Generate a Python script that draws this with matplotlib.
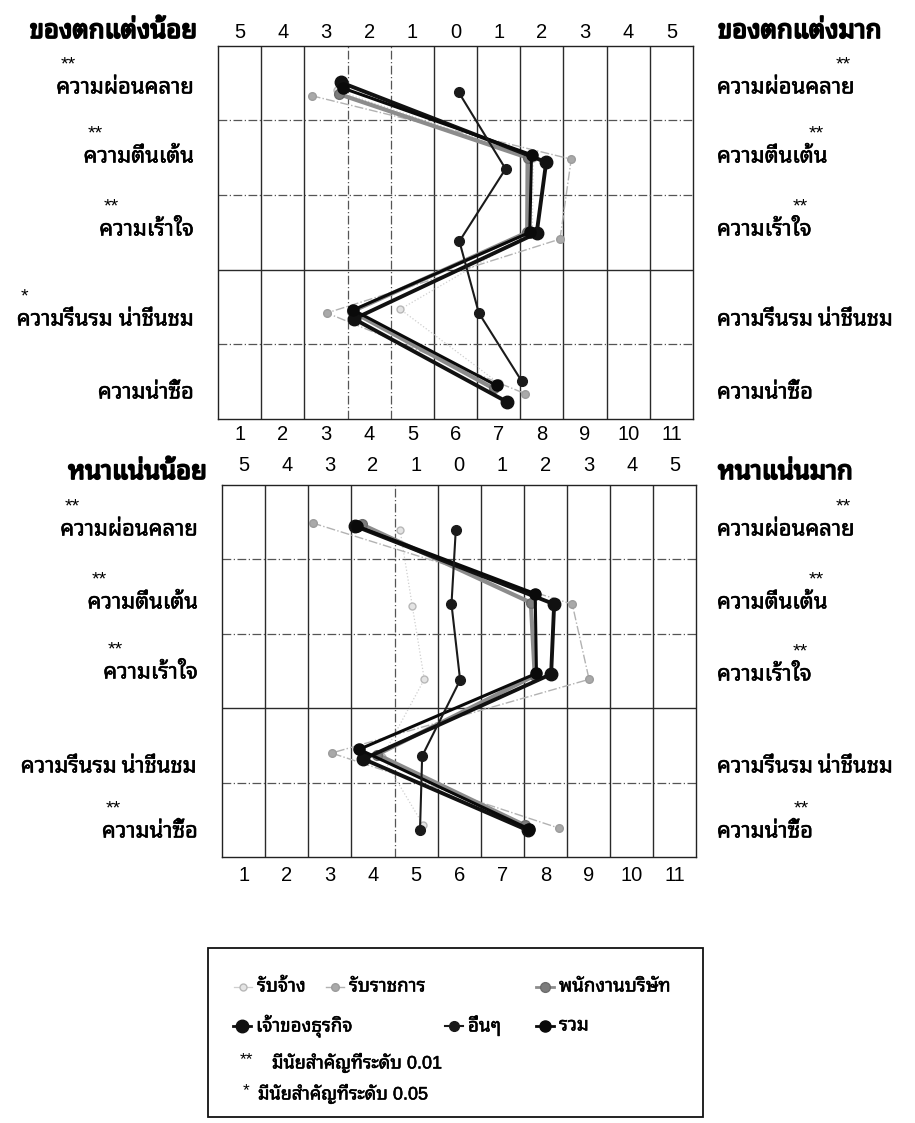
import matplotlib
matplotlib.use("Agg")
import numpy as np
import matplotlib.pyplot as plt
from matplotlib import font_manager, ft2font
from matplotlib import patheffects
from matplotlib.patches import Rectangle


# Row labels of the semantic differential and the occupation groups
attributes = ["ความผ่อนคลาย", "ความตื่นเต้น", "ความเร้าใจ", "ความรื่นรม น่าชื่นชม", "ความน่าซื้อ"]
groups = ["รับจ้าง", "รับราชการ", "พนักงานบริษัท", "เจ้าของธุรกิจ", "อื่นๆ", "รวม"]

scale_top_labels = ["5", "4", "3", "2", "1", "0", "1", "2", "3", "4", "5"]
scale_bottom_labels = ["1", "2", "3", "4", "5", "6", "7", "8", "9", "10", "11"]

# significance marks written beside each row label
deco_sig_left = ["**", "**", "**", "*", ""]
deco_sig_right = ["**", "**", "**", "", ""]
dense_sig_left = ["**", "**", "**", "", "**"]
dense_sig_right = ["**", "**", "**", "", "**"]

# ของตกแต่ง : position on the 1-11 scale (x) and row (y) for every group
deco_hire_x = [3.25, 7.80, 7.78, 4.72, 7.00]
deco_hire_y = [1.10, 2.00, 3.00, 4.03, 5.02]
deco_gov_x = [2.67, 8.68, 8.42, 3.02, 7.61]
deco_gov_y = [1.17, 2.02, 3.09, 4.08, 5.16]
deco_company_x = [3.31, 7.67, 7.66, 3.60, 6.88]
deco_company_y = [1.15, 2.00, 3.00, 4.06, 5.09]
deco_owner_x = [3.34, 8.10, 7.88, 3.65, 7.19]
deco_owner_y = [0.99, 2.06, 3.01, 4.16, 5.27]
deco_other_x = [6.07, 7.16, 6.09, 6.54, 7.53]
deco_other_y = [1.12, 2.15, 3.12, 4.08, 4.99]
deco_total_x = [3.40, 7.76, 7.72, 3.63, 6.95]
deco_total_y = [1.07, 1.96, 3.00, 4.04, 5.05]

# หนาแน่น
dense_hire_x = [4.63, 4.91, 5.19, 4.22, 5.17]
dense_hire_y = [1.11, 2.12, 3.11, 4.15, 5.07]
dense_gov_x = [2.60, 8.62, 9.01, 3.04, 8.32]
dense_gov_y = [1.01, 2.10, 3.11, 4.10, 5.11]
dense_company_x = [3.74, 7.66, 7.75, 4.10, 7.52]
dense_company_y = [1.03, 2.08, 3.06, 4.12, 5.07]
dense_owner_x = [3.58, 8.20, 8.13, 3.78, 7.60]
dense_owner_y = [1.05, 2.10, 3.04, 4.18, 5.14]
dense_other_x = [5.92, 5.82, 6.02, 5.14, 5.09]
dense_other_y = [1.10, 2.10, 3.12, 4.14, 5.14]
dense_total_x = [3.62, 7.76, 7.79, 3.68, 7.62]
dense_total_y = [1.05, 1.96, 3.03, 4.05, 5.12]


def find_thai_font():
    # pick an installed family that actually has Thai glyphs
    preferred = ["Noto Sans Thai Looped", "Noto Sans Thai", "Noto Sans Thai UI",
                 "Loma", "Garuda", "Waree", "Tlwg Typo", "Sawasdee", "Norasi", "Kinnari"]
    found = {}
    for entry in font_manager.fontManager.ttflist:
        if entry.name in found:
            continue
        try:
            cmap = ft2font.FT2Font(entry.fname).get_charmap()
        except Exception:
            continue
        if 0x0E01 in cmap and 0x0E35 in cmap:
            found[entry.name] = entry.fname
    for name in preferred:
        if name in found:
            return name
    if found:
        return sorted(found)[0]
    return "DejaVu Sans"


thai = find_thai_font()
fonts = ["Liberation Sans", thai, "DejaVu Sans"]
plt.rcParams["font.family"] = fonts

# heavier strokes for the bold headings and a touch for the row labels
heavy = [patheffects.withStroke(linewidth=1.3, foreground="black")]
medium = [patheffects.withStroke(linewidth=0.4, foreground="black")]

# line and marker look of each group, in drawing order
styles = {
    "รับจ้าง": dict(color="#cfcfcf", lw=0.9, ls=":", marker="o", ms=5,
                    mfc="#e4e4e4", mec="#b8b8b8", zorder=3),
    "รับราชการ": dict(color="#b2b2b2", lw=1.0, ls="-.", marker="o", ms=5.5,
                      mfc="#a9a9a9", mec="#9c9c9c", zorder=4),
    "พนักงานบริษัท": dict(color="#8c8c8c", lw=3.0, ls="-", marker="o", ms=7,
                          mfc="#7c7c7c", mec="#6c6c6c", zorder=5),
    "เจ้าของธุรกิจ": dict(color="#111111", lw=2.8, ls="-", marker="o", ms=9,
                          mfc="#111111", mec="#111111", zorder=6),
    "อื่นๆ": dict(color="#1a1a1a", lw=1.5, ls="-", marker="o", ms=7,
                  mfc="#1a1a1a", mec="#1a1a1a", zorder=7),
    "รวม": dict(color="#0a0a0a", lw=2.2, ls="-", marker="o", ms=8,
                mfc="#0a0a0a", mec="#0a0a0a", zorder=6),
}

deco_series = [(deco_hire_x, deco_hire_y), (deco_gov_x, deco_gov_y),
               (deco_company_x, deco_company_y), (deco_owner_x, deco_owner_y),
               (deco_other_x, deco_other_y), (deco_total_x, deco_total_y)]
dense_series = [(dense_hire_x, dense_hire_y), (dense_gov_x, dense_gov_y),
                (dense_company_x, dense_company_y), (dense_owner_x, dense_owner_y),
                (dense_other_x, dense_other_y), (dense_total_x, dense_total_y)]

W, H = 915, 1123
fig = plt.figure(figsize=(W / 100, H / 100), dpi=100)

# overlay in pixel units for the labels around the charts
over = fig.add_axes([0, 0, 1, 1])
over.set_xlim(0, W)
over.set_ylim(H, 0)
over.set_axis_off()


def draw_panel(rect, series, dashed_cols, top_pad, bottom_pad):
    ax = fig.add_axes(rect)
    ax.set_xlim(0.5, 11.5)
    ax.set_ylim(5.5, 0.5)
    for v in np.arange(1.5, 11.5, 1.0):
        if v in dashed_cols:
            ax.axvline(v, color="#555555", lw=0.9, ls=(0, (7, 2, 1, 2)), zorder=1)
        else:
            ax.axvline(v, color="#2a2a2a", lw=1.0, zorder=1)
    for h in np.arange(1.5, 5.5, 1.0):
        if h == 3.5:
            ax.axhline(h, color="#2a2a2a", lw=1.0, zorder=1)
        else:
            ax.axhline(h, color="#555555", lw=0.9, ls=(0, (7, 2, 1, 2)), zorder=1)

    for name, (xs, ys) in zip(groups, series):
        ax.plot(xs, ys, label=name, **styles[name])

    for s in ax.spines.values():
        s.set_color("#222222")
        s.set_linewidth(1.0)
    ax.set_yticks([])
    ax.set_xticks(range(1, 12), labels=scale_bottom_labels)
    ax.tick_params(axis="x", length=0, labelsize=14.5, pad=bottom_pad)
    top = ax.secondary_xaxis("top")
    top.set_xticks(range(1, 12), labels=scale_top_labels)
    top.tick_params(length=0, labelsize=14.5, pad=top_pad)
    top.spines["top"].set_visible(False)
    return ax


ax1 = draw_panel([218 / W, 1 - 419 / H, 475 / W, 373.3 / H], deco_series,
                 {3.5, 4.5}, 3, 4.5)
ax2 = draw_panel([222 / W, 1 - 857.3 / H, 474.5 / W, 372.3 / H], dense_series,
                 {4.5}, 7, 6.5)


def side_labels(x, ys, sigs, side):
    for label, y, sig in zip(attributes, ys, sigs):
        if side == "left":
            t = over.text(x, y, label, ha="right", va="center", fontsize=15.8,
                          path_effects=medium)
            fx, dx, ha = 0.0, 4, "left"
        else:
            t = over.text(x, y, label, ha="left", va="center", fontsize=15.8,
                          path_effects=medium)
            fx, dx, ha = 1.0, -4, "right"
        if sig:
            over.annotate(sig, xy=(fx, y - 23), xycoords=(t, "data"),
                          xytext=(dx, 0), textcoords="offset pixels",
                          ha=ha, va="center", fontsize=14)


# ของตกแต่ง
over.text(197, 31, "ของตกแต่งน้อย", ha="right", va="center", fontsize=18.5,
          fontweight="bold", path_effects=heavy)
over.text(718, 31, "ของตกแต่งมาก", ha="left", va="center", fontsize=18.5,
          fontweight="bold", path_effects=heavy)
side_labels(194, [88, 157, 230, 320, 393], deco_sig_left, "left")
side_labels(717, [88, 157, 230, 320, 393], deco_sig_right, "right")

# หนาแน่น
over.text(207, 472, "หนาแน่นน้อย", ha="right", va="center", fontsize=18.5,
          fontweight="bold", path_effects=heavy)
over.text(718, 472, "หนาแน่นมาก", ha="left", va="center", fontsize=18.5,
          fontweight="bold", path_effects=heavy)
side_labels(198, [530, 603, 673, 767, 832], dense_sig_left, "left")
side_labels(717, [530, 603, 675, 767, 832], dense_sig_right, "right")

# legend box with the group keys and the significance notes
over.add_patch(Rectangle((208, 948), 495, 169, fill=False, ec="#111111", lw=1.3))
legend_slots = {
    "รับจ้าง": (243, 987), "รับราชการ": (335, 987), "พนักงานบริษัท": (545, 987),
    "เจ้าของธุรกิจ": (242, 1026), "อื่นๆ": (454, 1026), "รวม": (545, 1026),
}
for name in groups:
    mx, my = legend_slots[name]
    st = dict(styles[name])
    st["lw"] = min(st["lw"], 2.0)
    st["ls"] = "-"
    over.plot([mx - 9, mx, mx + 9], [my, my, my], markevery=[1], **st)
    over.text(mx + 14, my, name, ha="left", va="center", fontsize=13.5,
              path_effects=medium)

over.text(240, 1060, "**", ha="left", va="center", fontsize=12.5)
over.text(272, 1063, "มีนัยสำคัญที่ระดับ 0.01", ha="left", va="center", fontsize=13,
          path_effects=medium)
over.text(243, 1091, "*", ha="left", va="center", fontsize=12.5)
over.text(258, 1094, "มีนัยสำคัญที่ระดับ 0.05", ha="left", va="center", fontsize=13,
          path_effects=medium)

fig.savefig("out.png", dpi=100)
